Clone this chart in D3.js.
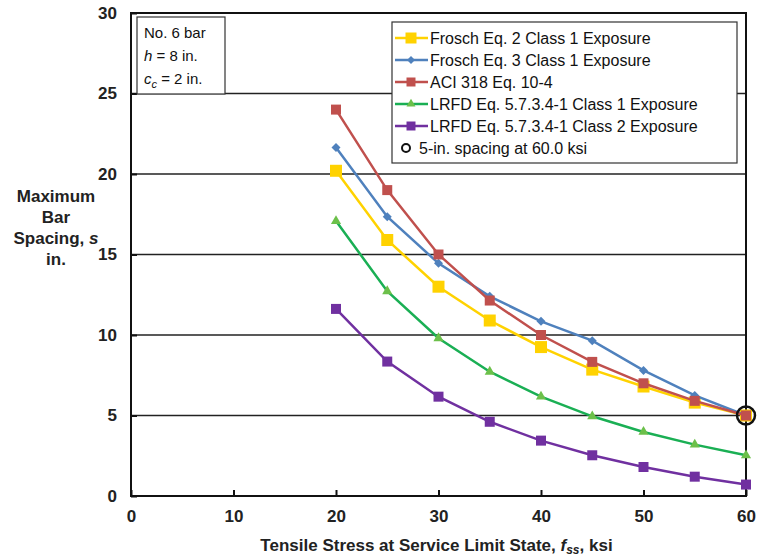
<!DOCTYPE html>
<html>
<head>
<meta charset="utf-8">
<script src="https://cdn.jsdelivr.net/npm/d3@7"></script>
<style>
  body { margin: 0; background: #fff; }
  .tick text { font-family: "Liberation Sans", Arial, sans-serif; font-weight: bold; font-size: 17px; fill: #222; }
  .axisTitle { font-family: "Liberation Sans", Arial, sans-serif; font-weight: bold; font-size: 17px; fill: #222; }
  .legend text, .note text { font-family: "Liberation Sans", Arial, sans-serif; font-size: 16px; fill: #111; }
</style>
</head>
<body>
<div id="chart"></div>
<script>
var stress = [20, 25, 30, 35, 40, 45, 50, 55, 60];

var froschEq2 = [20.2, 15.9, 13.0, 10.9, 9.25, 7.85, 6.8, 5.8, 5.0];
var froschEq3 = [21.65, 17.35, 14.45, 12.4, 10.85, 9.65, 7.8, 6.25, 5.0];
var aci318 = [24.0, 19.0, 15.0, 12.14, 10.0, 8.33, 7.0, 5.91, 5.0];
var lrfdClass1 = [17.08, 12.72, 9.8, 7.72, 6.17, 4.95, 3.98, 3.19, 2.53];
var lrfdClass2 = [11.62, 8.35, 6.17, 4.61, 3.44, 2.53, 1.8, 1.2, 0.71];

var xTicks = [0, 10, 20, 30, 40, 50, 60];
var yTicks = [0, 5, 10, 15, 20, 25, 30];
var highlight = {fss: 60, s: 5};

var series = [
  {name: "Frosch Eq. 2 Class 1 Exposure", values: froschEq2, color: "#ffd200", marker: "square", size: 12},
  {name: "Frosch Eq. 3 Class 1 Exposure", values: froschEq3, color: "#4f81bd", marker: "diamond", size: 9},
  {name: "ACI 318 Eq. 10-4", values: aci318, color: "#c0504d", marker: "square", size: 10},
  {name: "LRFD Eq. 5.7.3.4-1 Class 1 Exposure", values: lrfdClass1, color: "#1aaf54", fill: "#6cc04a", marker: "triangle", size: 9},
  {name: "LRFD Eq. 5.7.3.4-1 Class 2 Exposure", values: lrfdClass2, color: "#7030a0", marker: "square", size: 10}
];

var margin = {top: 13, right: 15, bottom: 63, left: 131};
var width = 761 - margin.left - margin.right;
var height = 559 - margin.top - margin.bottom;

var svg = d3.select("#chart").append("svg")
  .attr("width", 761)
  .attr("height", 559)
  .append("g")
  .attr("transform", "translate(" + margin.left + "," + margin.top + ")");

var x = d3.scaleLinear().domain([0, 60]).range([0, width]);
var y = d3.scaleLinear().domain([0, 30]).range([height, 0]);

// gridlines
svg.selectAll(".grid")
  .data(yTicks.slice(1, -1))
  .enter().append("line")
  .attr("x1", 0).attr("x2", width)
  .attr("y1", function (d) { return y(d); })
  .attr("y2", function (d) { return y(d); })
  .attr("stroke", "#222")
  .attr("stroke-width", 1.3);

var xAxis = d3.axisBottom(x).tickValues(xTicks).tickSize(-6).tickPadding(14);
var yAxis = d3.axisLeft(y).tickValues(yTicks).tickSize(-6).tickPadding(14);

var gx = svg.append("g").attr("transform", "translate(0," + height + ")").call(xAxis);
var gy = svg.append("g").call(yAxis);
[gx, gy].forEach(function (g) {
  g.select(".domain").remove();
  g.selectAll(".tick line").attr("stroke", "#111").attr("stroke-width", 2);
});

// plot frame
svg.append("rect")
  .attr("width", width).attr("height", height)
  .attr("fill", "none").attr("stroke", "#111").attr("stroke-width", 2);

var line = d3.line()
  .x(function (d, i) { return x(stress[i]); })
  .y(function (d) { return y(d); });

function markerPath(type, size) {
  if (type === "square") return d3.symbol(d3.symbolSquare, size * size)();
  if (type === "diamond") return "M0," + (-size / 2) + "L" + (size / 2) + ",0L0," + (size / 2) + "L" + (-size / 2) + ",0Z";
  return d3.symbol(d3.symbolTriangle, size * size * 0.55)();
}

series.forEach(function (s) {
  svg.append("path")
    .datum(s.values)
    .attr("fill", "none")
    .attr("stroke", s.color)
    .attr("stroke-width", 2.5)
    .attr("d", line);
  svg.selectAll(null)
    .data(s.values)
    .enter().append("path")
    .attr("transform", function (d, i) { return "translate(" + x(stress[i]) + "," + y(d) + ")"; })
    .attr("d", markerPath(s.marker, s.size))
    .attr("fill", s.fill || s.color);
});

svg.append("circle")
  .attr("cx", x(highlight.fss)).attr("cy", y(highlight.s))
  .attr("r", 9)
  .attr("fill", "none").attr("stroke", "#111").attr("stroke-width", 2.5);

// axis titles
svg.append("text")
  .attr("class", "axisTitle")
  .attr("x", x(30) - 2).attr("y", height + 55)
  .attr("text-anchor", "middle")
  .html('Tensile Stress at Service Limit State, <tspan font-style="italic">f</tspan><tspan font-style="italic" font-size="12px" dy="3">ss</tspan><tspan dy="-3">, ksi</tspan>');

var yTitle = svg.append("text")
  .attr("class", "axisTitle")
  .attr("text-anchor", "middle");
["Maximum", "Bar", "Spacing, s", "in."].forEach(function (t, i) {
  var ts = yTitle.append("tspan").attr("x", -75).attr("y", y(20) + 28 + i * 21);
  if (t === "Spacing, s") {
    ts.text("Spacing, ");
    yTitle.append("tspan").attr("font-style", "italic").text("s");
  } else {
    ts.text(t);
  }
});

// note box
var note = svg.append("g").attr("class", "note").attr("transform", "translate(6,4)");
note.append("rect").attr("width", 88).attr("height", 77)
  .attr("fill", "#fff").attr("stroke", "#333").attr("stroke-width", 1.2);
note.append("text").attr("x", 7).attr("y", 21).style("font-size", "15px").text("No. 6 bar");
note.append("text").attr("x", 7).attr("y", 44).style("font-size", "15px")
  .html('<tspan font-style="italic">h</tspan> = 8 in.');
note.append("text").attr("x", 7).attr("y", 67).style("font-size", "15px")
  .html('<tspan font-style="italic">c</tspan><tspan font-style="italic" font-size="11px" dy="4">c</tspan><tspan dy="-4"> = 2 in.</tspan>');

// legend
var legend = svg.append("g").attr("class", "legend").attr("transform", "translate(261,9)");
legend.append("rect").attr("width", 345).attr("height", 141)
  .attr("fill", "#fff").attr("stroke", "#333").attr("stroke-width", 1.2);

var items = legend.selectAll(".item")
  .data(series)
  .enter().append("g")
  .attr("transform", function (d, i) { return "translate(0," + (16 + i * 22) + ")"; });
items.append("line")
  .attr("x1", 3).attr("x2", 36)
  .attr("stroke", function (d) { return d.color; })
  .attr("stroke-width", 2.5);
items.append("path")
  .attr("transform", "translate(19,0)")
  .attr("d", function (d) { return markerPath(d.marker, d.size - 1); })
  .attr("fill", function (d) { return d.fill || d.color; });
items.append("text")
  .attr("x", 38).attr("dy", "0.35em")
  .text(function (d) { return d.name; });

var hl = legend.append("g").attr("transform", "translate(0," + (16 + 5 * 22) + ")");
hl.append("circle").attr("cx", 14).attr("r", 4)
  .attr("fill", "none").attr("stroke", "#111").attr("stroke-width", 2);
hl.append("text").attr("x", 27).attr("dy", "0.35em").text("5-in. spacing at 60.0 ksi");
</script>
</body>
</html>
